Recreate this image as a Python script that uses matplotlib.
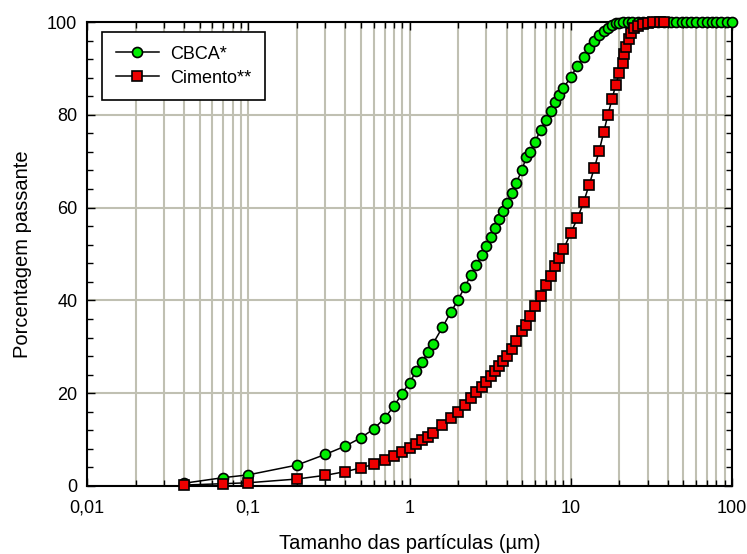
import matplotlib
matplotlib.use("Agg")
import matplotlib.pyplot as plt
from matplotlib.ticker import LogLocator, FixedLocator, NullFormatter, MultipleLocator

plt.rcParams['font.family'] = ['Liberation Sans', 'DejaVu Sans']

# CBCA* (green circles)
cbca_size = [0.04, 0.07, 0.1, 0.2, 0.3, 0.4, 0.5, 0.6, 0.7, 0.8, 0.9, 1.0, 1.1, 1.2, 1.3, 1.4,
             1.6, 1.8, 2.0, 2.2, 2.4, 2.6, 2.8, 3.0, 3.2, 3.4, 3.6, 3.8, 4.0, 4.3, 4.6, 5.0,
             5.3, 5.6, 6.0, 6.5, 7.0, 7.5, 8.0, 8.5, 9.0, 10, 11, 12, 13, 14, 15, 16, 17, 18,
             19, 20, 21, 22.5, 24, 26, 28, 30, 32, 35, 38, 42, 45, 49, 52, 56, 60, 65, 70,
             75, 80, 86, 93, 100]
cbca_pass = [0.6, 1.8, 2.4, 4.5, 6.8, 8.6, 10.4, 12.3, 14.6, 17.2, 19.9, 22.3, 24.7, 26.8, 28.8, 30.7,
             34.2, 37.4, 40.1, 42.9, 45.4, 47.6, 49.8, 51.7, 53.7, 55.7, 57.5, 59.2, 60.9, 63.2, 65.4, 68.2,
             71.0, 72.0, 74.2, 76.7, 78.9, 80.9, 82.7, 84.3, 85.7, 88.2, 90.5, 92.5, 94.3, 96.0, 97.1, 98.1, 98.8, 99.4,
             99.7, 99.8, 99.9, 100, 100, 100, 100, 100, 100, 100, 100, 100, 100, 100, 100, 100, 100, 100, 100,
             100, 100, 100, 100, 100]

# Cimento** (red squares)
cim_size = [0.04, 0.07, 0.1, 0.2, 0.3, 0.4, 0.5, 0.6, 0.7, 0.8, 0.9, 1.0, 1.1, 1.2, 1.3, 1.4,
            1.6, 1.8, 2.0, 2.2, 2.4, 2.6, 2.8, 3.0, 3.2, 3.4, 3.6, 3.8, 4.0, 4.3, 4.6, 5.0,
            5.3, 5.6, 6.0, 6.5, 7.0, 7.5, 8.0, 8.5, 9.0, 10, 11, 12, 13, 14, 15, 16, 17, 18,
            19, 20, 21, 21.5, 22, 23, 23.5, 24.5, 26, 28, 30, 32.5, 36, 38]
cim_pass = [0.2, 0.5, 0.7, 1.5, 2.3, 3.1, 3.9, 4.7, 5.6, 6.4, 7.4, 8.2, 9.1, 9.9, 10.6, 11.5,
            13.1, 14.7, 16.0, 17.5, 18.9, 20.2, 21.4, 22.5, 23.6, 24.8, 25.9, 27.0, 28.0, 29.5, 31.2, 33.4,
            34.8, 36.7, 38.8, 40.9, 43.3, 45.3, 47.4, 49.1, 51.0, 54.5, 57.7, 61.1, 64.9, 68.5, 72.2, 76.2, 80.0, 83.3,
            86.4, 89.1, 91.2, 93.0, 94.6, 96.3, 97.7, 98.8, 99.2, 99.5, 99.7, 99.9, 100, 100]

x_ticks = [0.01, 0.1, 1, 10, 100]
x_tick_labels = ["0,01", "0,1", "1", "10", "100"]
y_ticks = [0, 20, 40, 60, 80, 100]

fig = plt.figure(figsize=(7.47, 5.54), dpi=100)
ax = fig.add_axes([87/747, 1-486/554, (732-87)/747, (486-22)/554])

grid_color = "#c0c0b2"
ax.plot(cbca_size, cbca_pass, color="black", lw=1.1, marker="o", ms=7.2,
        mfc="#00ee00", mec="black", mew=1.2, label="CBCA*", clip_on=False, zorder=3)
ax.plot(cim_size, cim_pass, color="black", lw=1.1, marker="s", ms=7.0,
        mfc="#ee0000", mec="black", mew=1.2, label="Cimento**", clip_on=False, zorder=4)

ax.set_xscale("log")
ax.set_xlim(0.01, 100)
ax.set_ylim(0, 100)
ax.xaxis.set_major_locator(FixedLocator(x_ticks))
ax.set_xticklabels(x_tick_labels)
ax.xaxis.set_minor_locator(LogLocator(base=10, subs=range(2, 10)))
ax.xaxis.set_minor_formatter(NullFormatter())
ax.yaxis.set_major_locator(FixedLocator(y_ticks))
ax.yaxis.set_minor_locator(MultipleLocator(4))

ax.grid(True, which="major", axis="both", color=grid_color, lw=1.5, zorder=0)
ax.grid(True, which="minor", axis="x", color=grid_color, lw=1.5, zorder=0)
ax.set_axisbelow(True)

ax.tick_params(which="both", direction="in", top=True, right=True, labelsize=13,
               color="black", width=1.0)
ax.tick_params(which="major", length=6)
ax.tick_params(which="minor", length=4)
ax.tick_params(axis="x", which="major", pad=10)
ax.tick_params(axis="y", which="major", pad=7)
for s in ax.spines.values():
    s.set_linewidth(1.5)

ax.set_xlabel("Tamanho das partículas (µm)", fontsize=14.5, labelpad=12)
ax.set_ylabel("Porcentagem passante", fontsize=14.5, labelpad=11)

leg = ax.legend(loc="upper left", bbox_to_anchor=(15/645, 1-10/464), fontsize=13,
                frameon=True, fancybox=False, edgecolor="black", framealpha=1,
                borderpad=0.75, borderaxespad=0, handlelength=2.4, handletextpad=0.6,
                labelspacing=0.4)
leg.get_frame().set_linewidth(1.2)

fig.savefig("out.png", dpi=100)
